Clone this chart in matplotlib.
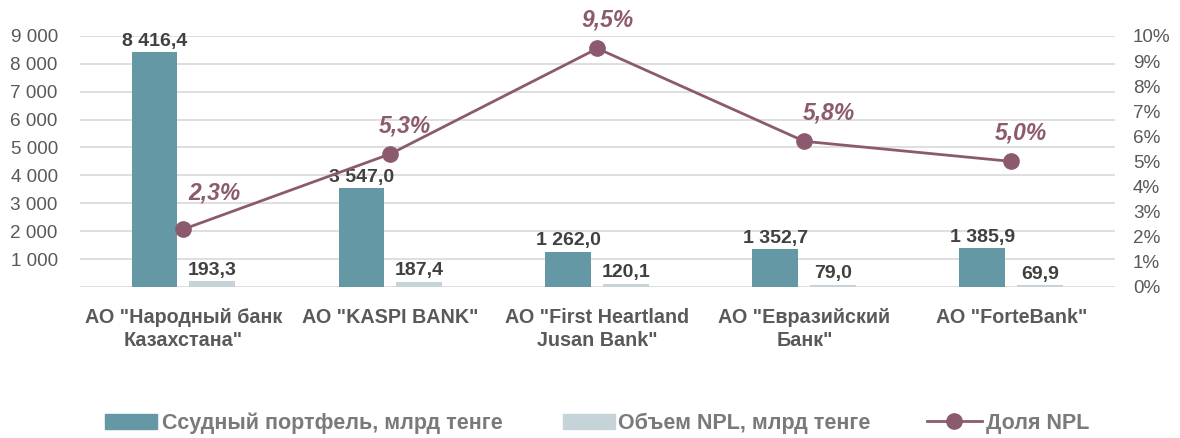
import matplotlib
matplotlib.use("Agg")
import matplotlib.pyplot as plt
import numpy as np
from matplotlib.patches import Patch
from matplotlib.lines import Line2D
from matplotlib.ticker import FuncFormatter, MultipleLocator

banks = ['АО "Народный банк\nКазахстана"', 'АО "KASPI BANK"',
         'АО "First Heartland\nJusan Bank"', 'АО "Евразийский\nБанк"', 'АО "ForteBank"']
portfolio = [8416.4, 3547.0, 1262.0, 1352.7, 1385.9]
npl_volume = [193.3, 187.4, 120.1, 79.0, 69.9]
npl_share = [2.3, 5.3, 9.5, 5.8, 5.0]

BLUE = "#6598a5"
LIGHT = "#c6d4d9"
PLUM = "#8c5a6f"
TEXT = "#595959"
LEGTXT = "#7a7a7a"
DARK = "#404040"
GRID = "#d9d9d9"

FONT = ["Liberation Sans Narrow", "Liberation Sans", "DejaVu Sans"]
plt.rcParams["font.family"] = FONT


def sp(v, _pos=None):
    return f"{v:,.0f}".replace(",", " ")


def lab(v):
    return f"{v:,.1f}".replace(",", " ").replace(".", ",")


fig = plt.figure(figsize=(11.8, 4.38), dpi=100)
ax = fig.add_axes([0.0678, 0.345, 0.877, 0.573])
ax2 = ax.twinx()

x = np.arange(len(banks))
w = 0.222
off = 0.14
ax.bar(x - off, portfolio, w, color=BLUE, zorder=2)
ax.bar(x + off, npl_volume, w, color=LIGHT, zorder=2)
for xi, v in zip(x, portfolio):
    ax.text(xi - off, v + 80, lab(v), ha="center", va="bottom", fontsize=14,
            fontweight="bold", color=DARK)
for xi, v in zip(x, npl_volume):
    ax.text(xi + off, v + 80, lab(v), ha="center", va="bottom", fontsize=14,
            fontweight="bold", color=DARK)

ax.set_xlim(-0.5, len(banks) - 0.5)
ax.set_ylim(0, 9000)
ax.yaxis.set_major_locator(MultipleLocator(1000))
ax.yaxis.set_major_formatter(FuncFormatter(lambda v, p: "" if v == 0 else sp(v)))
ax.grid(axis="y", color=GRID, lw=1.2, zorder=0)
ax.set_axisbelow(True)
ax.set_xticks(x)
ax.set_xticklabels(banks, fontsize=14.2, fontweight="bold", color=TEXT, linespacing=1.3)
ax.tick_params(axis="x", length=0, pad=15)
ax.tick_params(axis="y", length=0, labelsize=13.6, labelcolor=TEXT, pad=16)
for s in ax.spines.values():
    s.set_visible(False)

ax2.plot(x, npl_share, "-o", color=PLUM, lw=2, ms=11, zorder=3)
ax2.set_ylim(0, 10)
ax2.yaxis.set_major_locator(MultipleLocator(1))
ax2.yaxis.set_major_formatter(FuncFormatter(lambda v, p: f"{v:.0f}%"))
ax2.tick_params(axis="y", length=0, labelsize=13.6, labelcolor=TEXT, pad=13)
for s in ax2.spines.values():
    s.set_visible(False)
label_offsets = [(31, 36), (14, 28), (10, 28), (25, 28), (10, 28)]
for xi, v, (dx, dy) in zip(x, npl_share, label_offsets):
    ax2.annotate(f"{v:.1f}%".replace(".", ","), (xi, v), xytext=(dx, dy),
                 textcoords="offset pixels", ha="center", va="center",
                 fontsize=16.5, fontweight="bold", fontstyle="italic", color=PLUM)

leg_font = {"weight": "bold", "size": 15.5, "family": FONT}
kw = dict(frameon=False, handleheight=0.7, borderpad=0, borderaxespad=0,
          loc="center left", prop=leg_font)
ly = 1 - 423 / 438
l1 = fig.legend([Patch(color=BLUE)], ["Ссудный портфель, млрд тенге"],
                bbox_to_anchor=(105 / 1180, ly), handlelength=2.4, handletextpad=0.23, **kw)
l2 = fig.legend([Patch(color=LIGHT)], ["Объем NPL, млрд тенге"],
                bbox_to_anchor=(563 / 1180, ly), handlelength=2.4, handletextpad=0.15, **kw)
l3 = fig.legend([Line2D([], [], color=PLUM, lw=2, marker="o", ms=11)], ["Доля NPL"],
                bbox_to_anchor=(927 / 1180, ly), handlelength=2.55, handletextpad=0.2, **kw)
for lg in (l1, l2, l3):
    for t in lg.get_texts():
        t.set_color(LEGTXT)

fig.savefig("out.png", dpi=100, facecolor="white")
